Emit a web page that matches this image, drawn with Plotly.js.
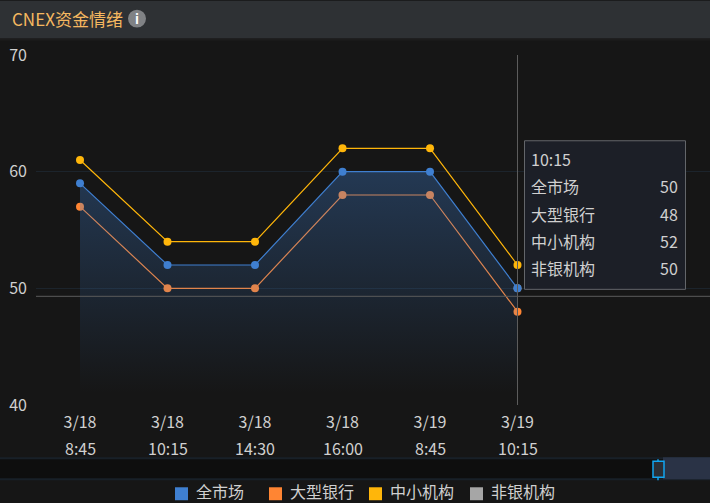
<!DOCTYPE html>
<html><head><meta charset="utf-8">
<script src="https://cdn.plot.ly/plotly-3.0.1.min.js"></script>
<style>html,body{margin:0;padding:0;background:#161616;overflow:hidden}#c{width:710px;height:503px}</style>
</head><body><div id="c"></div>
<script>
const dates=['3/18','3/18','3/18','3/18','3/19','3/19'];
const times=['8:45','10:15','14:30','16:00','8:45','10:15'];
const categories=[0,1,2,3,4,5];
const market=[59,52,52,60,60,50];
const bigBank=[57,50,50,58,58,48];
const smallInst=[61,54,54,62,62,52];
const nonBank=[null,null,null,null,null,50];
const names=['全市场','大型银行','中小机构','非银机构'];
const colors=['#3f7fd0','#ff8533','#ffb60a','#a6a6a6'];
const seriesValues=[market,bigBank,smallInst,nonBank];
const yTicks=[40,50,60,70];
const titleText='CNEX资金情绪';
const W=710,H=503,L=36,T=54.5,B=405.5;
const FONT='"Noto Sans CJK SC","Noto Sans",sans-serif';
const LEGENDFONT='"Liberation Sans","Noto Sans CJK SC",sans-serif';
const px=x=>(x-L)/(W-L), py=y=>(B-y)/(B-T);
const rect=(x0,y0,x1,y1,fill,line,layer,lw)=>({type:'rect',xref:'paper',yref:'paper',x0:px(x0),x1:px(x1),y0:py(y0),y1:py(y1),fillcolor:fill,line:{color:line||'rgba(0,0,0,0)',width:line?(lw||1):0},layer:layer||'above'});
const seg=(x0,y0,x1,y1,c,layer,w)=>({type:'line',xref:'paper',yref:'paper',x0:px(x0),x1:px(x1),y0:py(y0),y1:py(y1),line:{color:c,width:w||1},layer:layer||'above'});
const txt=(x,y,text,size,color,anchor,fam)=>({xref:'paper',yref:'paper',x:px(x),y:py(y),text:text,showarrow:false,xanchor:anchor||'left',yanchor:'middle',font:{family:fam||FONT,size:size,color:color},borderpad:0,borderwidth:0});

const traces=[
 {x:categories,y:nonBank,name:names[3],mode:'markers',marker:{size:8,color:colors[3]},hoverinfo:'skip',showlegend:false},
 {x:categories,y:bigBank,name:names[1],mode:'lines+markers',line:{color:colors[1],width:1.2},marker:{size:8,color:colors[1]},hoverinfo:'skip',showlegend:false},
 {x:categories,y:market,name:names[0],mode:'lines+markers',line:{color:colors[0],width:1.2},marker:{size:8,color:colors[0]},hoverinfo:'skip',showlegend:false,
  fill:'tozeroy',fillgradient:{type:'vertical',start:60,stop:41,colorscale:[[0,'rgba(63,127,208,0.33)'],[1,'rgba(63,127,208,0)']]}},
 {x:categories,y:smallInst,name:names[2],mode:'lines+markers',line:{color:colors[2],width:1.2},marker:{size:8,color:colors[2]},hoverinfo:'skip',showlegend:false}
];

const shapes=[
 rect(0,0,710,38,'#2e3134',null,'below'),
 rect(0,38,710,40,'#1c1c1c',null,'below'),
 {type:'circle',xref:'paper',yref:'paper',x0:px(128),x1:px(146),y0:py(9),y1:py(27),fillcolor:'#808285',line:{width:0},layer:'below'},
 rect(0,458,710,481,'#182028',null,'below'),
 rect(0,460,710,479,'#0e0e0e',null,'below'),
 rect(663,458,710,480,'#2a3346',null,'below'),
 seg(658,460,658,481,'#12a5f0','above',1.5),
 rect(653,462,664,478,'#2b2f36','#12a5f0','above',1.5),
 {type:'line',xref:'x',yref:'paper',x0:5,x1:5,y0:0,y1:1,line:{color:'#5c5c5c',width:1},layer:'above'},
 {type:'line',xref:'paper',yref:'y',x0:0,x1:1,y0:49.316,y1:49.316,line:{color:'#5c5c5c',width:1},layer:'above'},
 rect(524.5,140.5,685.5,289.5,'#1c1f27','#63666a')
];
const swatchX=[175,269,369,470], textX=[196,290,390,491];
names.forEach((n,i)=>{shapes.push(rect(swatchX[i],488,swatchX[i]+13,501,colors[i],null,'above'));});

const annotations=[txt(12,18,titleText,17,'#f5b860'),
 txt(137,18,'<b>i</b>',13,'#ffffff','center'),
 txt(531,159,times[5],16,'#d0d0d0')];
const rowY=[186,214,241,268];
names.forEach((n,i)=>{
 annotations.push(txt(531,rowY[i],n,16,'#d0d0d0'));
 annotations.push(txt(678,rowY[i],String(seriesValues[i][5]),16,'#d0d0d0','right'));
 annotations.push(txt(textX[i],493.5,n,16,'#d0d0d0','left',LEGENDFONT));
});
categories.forEach((c,i)=>annotations.push({xref:'x',yref:'paper',x:c,y:py(449),text:times[i],showarrow:false,xanchor:'center',yanchor:'middle',font:{family:FONT,size:16,color:'#d0d0d0'},borderpad:0}));

const layout={width:W,height:H,margin:{l:L,r:0,t:T,b:H-B,pad:0},paper_bgcolor:'#161616',plot_bgcolor:'#161616',showlegend:false,
 xaxis:{type:'linear',range:[-0.503,7.2],tickmode:'array',tickvals:categories,ticktext:dates,showgrid:false,zeroline:false,showline:false,ticks:'',tickfont:{family:FONT,size:16,color:'#d0d0d0'},ticklabelstandoff:6},
 yaxis:{range:[40,70],tickmode:'array',tickvals:yTicks,ticktext:yTicks.map(String),showgrid:true,gridcolor:'#1c242c',gridwidth:1,zeroline:false,showline:false,ticks:'',tickfont:{family:FONT,size:16,color:'#d0d0d0'},ticklabelstandoff:8},
 shapes:shapes,annotations:annotations,hovermode:false};
Plotly.newPlot('c',traces,layout,{displayModeBar:false,staticPlot:true});
</script></body></html>
